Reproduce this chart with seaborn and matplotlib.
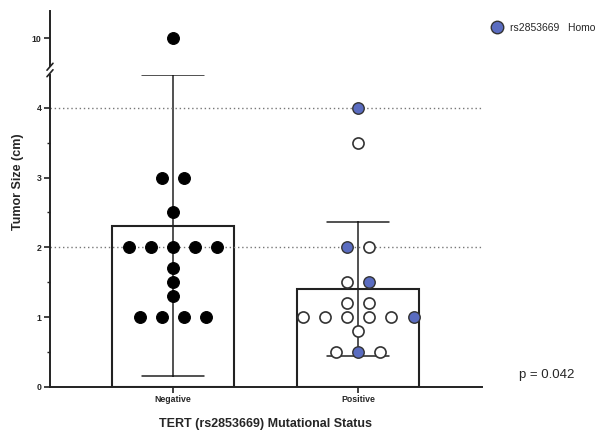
import numpy as np
import pandas as pd
import matplotlib
matplotlib.use("Agg")
import matplotlib.pyplot as plt
from matplotlib.lines import Line2D
from matplotlib.ticker import MultipleLocator
import seaborn as sns

# Data
groups = ["Negative", "Positive"]
neg_values = [10, 3, 3, 2.5, 2, 2, 2, 2, 2, 1.7, 1.5, 1.3, 1, 1, 1, 1]
pos_values = [4, 3.5, 2, 2, 1.5, 1.5, 1.2, 1.2, 1, 1, 1, 1, 1, 1, 0.8, 0.5, 0.5, 0.5]
pos_homo = [1, 0, 1, 0, 0, 1, 0, 0, 0, 0, 0, 0, 0, 1, 0, 0, 1, 0]
p_text = "p = 0.042"

blue = "#5a6cc0"

df = pd.DataFrame({
    "status": ["Negative"] * len(neg_values) + ["Positive"] * len(pos_values),
    "size": neg_values + pos_values,
    "homo": [0] * len(neg_values) + pos_homo,
})

# spread points with equal values side by side (like a prism scatter)
step = 0.12
df["xpos"] = 0.0
for gi, g in enumerate(groups):
    sub = df[df["status"] == g]
    for v, idx in sub.groupby("size").groups.items():
        n = len(idx)
        offs = (np.arange(n) - (n - 1) / 2) * step
        df.loc[idx, "xpos"] = gi + offs

sns.set_style("ticks")
plt.rcParams["font.family"] = ["Liberation Sans", "DejaVu Sans"]

fig = plt.figure(figsize=(6, 4.32), dpi=100)
ax = fig.add_axes([0.0833, 0.1042, 0.7200, 0.7222])
ax_top = fig.add_axes([0.0833, 0.848, 0.7200, 0.1265])

sns.barplot(data=df, x="status", y="size", order=groups, errorbar="sd",
            capsize=0.33, width=0.66, color="white", saturation=1,
            edgecolor="#222222", linewidth=1.5,
            err_kws={"color": "#222222", "linewidth": 1.1}, ax=ax)

for a in (ax, ax_top):
    neg = df[df["status"] == "Negative"]
    pos_open = df[(df["status"] == "Positive") & (df["homo"] == 0)]
    pos_blue = df[(df["status"] == "Positive") & (df["homo"] == 1)]
    sns.scatterplot(x=neg["xpos"], y=neg["size"], color="black", edgecolor="black",
                    s=72, linewidth=0.8, zorder=4, ax=a, legend=False)
    sns.scatterplot(x=pos_open["xpos"], y=pos_open["size"], color="white", edgecolor="#333333",
                    s=64, linewidth=1.2, zorder=4, ax=a, legend=False)
    sns.scatterplot(x=pos_blue["xpos"], y=pos_blue["size"], color=blue, edgecolor="#333333",
                    s=68, linewidth=1.0, zorder=4, ax=a, legend=False)

for yv in (2, 4):
    ax.axhline(yv, ls=(0, (1, 2)), color="#777777", lw=1.0, zorder=2)

ax.set_xlim(-0.665, 1.67)
ax.set_ylim(0, 4.47)
ax.set_yticks([0, 1, 2, 3, 4])
ax.yaxis.set_minor_locator(MultipleLocator(0.5))
ax.set_xticks([0, 1])
ax.set_xticklabels(groups, fontsize=6.3, fontweight="bold")
ax.set_yticklabels(["0", "1", "2", "3", "4"], fontsize=6.3, fontweight="bold")
ax.set_xlabel("")
ax.set_ylabel("")
sns.despine(ax=ax)
for sp in ("left", "bottom"):
    ax.spines[sp].set_linewidth(1.4)
    ax.spines[sp].set_color("#222222")
ax.tick_params(axis="both", which="major", length=4, width=1.2, pad=2, color="#222222")
ax.tick_params(axis="y", which="minor", length=2.5, width=1.0, color="#222222")

ax_top.set_xlim(-0.665, 1.67)
ax_top.set_ylim(9, 11)
ax_top.set_yticks([10])
ax_top.set_yticklabels(["10"], fontsize=6.3, fontweight="bold")
ax_top.set_xticks([])
ax_top.set_xlabel("")
ax_top.set_ylabel("")
sns.despine(ax=ax_top, bottom=True)
ax_top.spines["left"].set_linewidth(1.4)
ax_top.spines["left"].set_color("#222222")
ax_top.tick_params(axis="y", length=4, width=1.2, pad=2, color="#222222")

# axis break marks
for yc in (0.8455, 0.8305):
    fig.add_artist(Line2D([0.0783, 0.0883], [yc - 0.008, yc + 0.008],
                          color="#222222", lw=1.2, transform=fig.transFigure))

fig.text(0.03, 0.579, "Tumor Size (cm)", rotation=90, ha="center", va="center",
         fontsize=9, fontweight="bold")
fig.text(0.443, 0.018, "TERT (rs2853669) Mutational Status", ha="center", va="center",
         fontsize=9, fontweight="bold")
fig.text(0.865, 0.132, p_text, ha="left", va="center", fontsize=9.5)

handle = Line2D([], [], marker="o", ls="", markersize=9, markerfacecolor=blue,
                markeredgecolor="#333333", markeredgewidth=1.0)
fig.legend(handles=[handle], labels=["rs2853669   Homo"], loc="center left",
           bbox_to_anchor=(0.803, 0.935), frameon=False, fontsize=7.5,
           handletextpad=0.6, handlelength=1.2)

fig.savefig("out.png", dpi=100)
